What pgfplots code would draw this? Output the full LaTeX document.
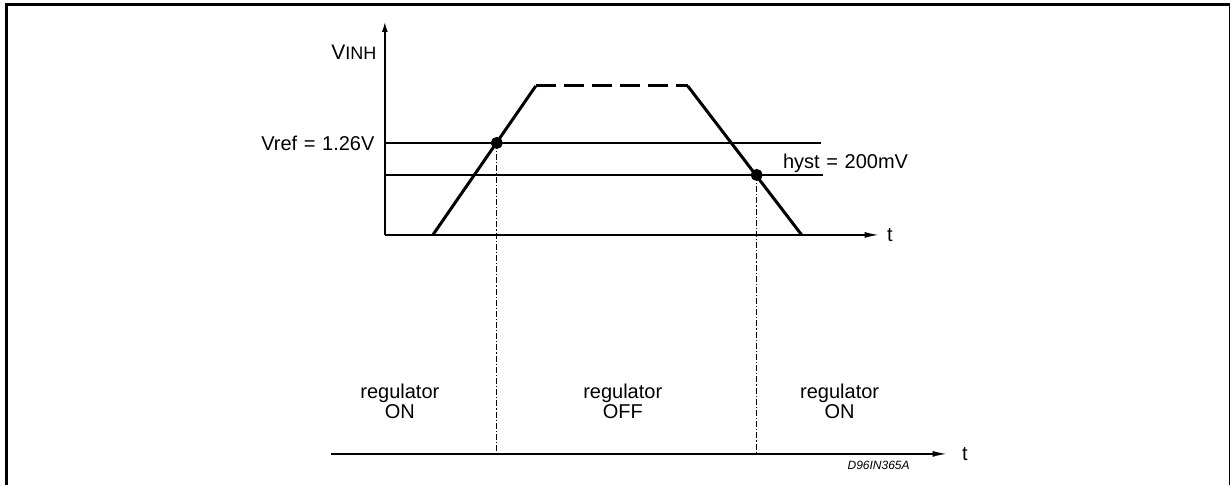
\documentclass[border=0pt]{standalone}
\usepackage{pgfplots}
\pgfplotsset{compat=1.18}
\usetikzlibrary{arrows.meta}
\usepackage{fontspec}
\setmainfont{Liberation Sans}
\begin{document}
\begin{tikzpicture}
\begin{axis}[
  scale only axis, width=615.5pt, height=242.5pt,
  xmin=0, xmax=1231, ymin=0, ymax=485,
  hide axis, clip=false,
  every axis plot/.append style={black},
]
% bounding box
\addplot[draw=none, forget plot] coordinates {(0,0) (1231,485)};
% frame
\addplot[line width=1.5pt] coordinates {(7,0) (7,480) (1230,480)};
\addplot[line width=0.6pt] coordinates {(1230,480) (1230,0)};
% axes of upper diagram
\addplot[line width=0.7pt, -{Latex[length=5pt,width=3pt]}] coordinates {(385,250) (385,463)};
\addplot[line width=0.7pt, -{Latex[length=7pt,width=3pt]}] coordinates {(385,250) (879,250)};
% threshold lines
\addplot[line width=0.6pt] coordinates {(385,342) (821,342)};
\addplot[line width=0.6pt] coordinates {(385,310) (823,310)};
% trapezoid
\addplot[line width=1.5pt] coordinates {(433,250) (536,399)};
\addplot[line width=1.5pt, dash pattern=on 10pt off 4pt] coordinates {(536,399) (688,399)};
\addplot[line width=1.5pt] coordinates {(688,399) (802,250)};
% switching points
\addplot[only marks, mark=*, mark size=2.8pt] coordinates {(497,342) (757,310)};
% dash-dot verticals
\addplot[line width=0.4pt, dash pattern=on 3pt off 1pt on 0.6pt off 1pt] coordinates {(497,342) (497,31)};
\addplot[line width=0.4pt, dash pattern=on 3pt off 1pt on 0.6pt off 1pt] coordinates {(757,310) (757,31)};
% lower time axis
\addplot[line width=0.7pt, -{Latex[length=7pt,width=3pt]}] coordinates {(331,31) (947,31)};
% labels
\node[anchor=east, inner sep=0pt, font=\fontsize{10.5}{12}\selectfont] at (axis cs:377,433) {V{\fontsize{9}{10}\selectfont INH}};
\node[anchor=east, inner sep=0pt, font=\fontsize{10}{12}\selectfont] at (axis cs:375,342) {Vref\,\,=\,\,1.26V};
\node[anchor=west, inner sep=0pt, font=\fontsize{10}{12}\selectfont] at (axis cs:783,322) {hyst\,\,=\,\,200mV};
\node[anchor=west, inner sep=0pt, font=\fontsize{10}{12}\selectfont] at (axis cs:887,250) {t};
\node[anchor=west, inner sep=0pt, font=\fontsize{10}{12}\selectfont] at (axis cs:962,31) {t};
\node[inner sep=0pt, font=\fontsize{6}{7}\selectfont\itshape] at (axis cs:879,20) {D96IN365A};
\node[align=center, inner sep=0pt, font=\fontsize{10}{10}\selectfont] at (axis cs:400,84) {regulator\\ON};
\node[align=center, inner sep=0pt, font=\fontsize{10}{10}\selectfont] at (axis cs:623,84) {regulator\\OFF};
\node[align=center, inner sep=0pt, font=\fontsize{10}{10}\selectfont] at (axis cs:840,84) {regulator\\ON};
\end{axis}
\end{tikzpicture}
\end{document}
